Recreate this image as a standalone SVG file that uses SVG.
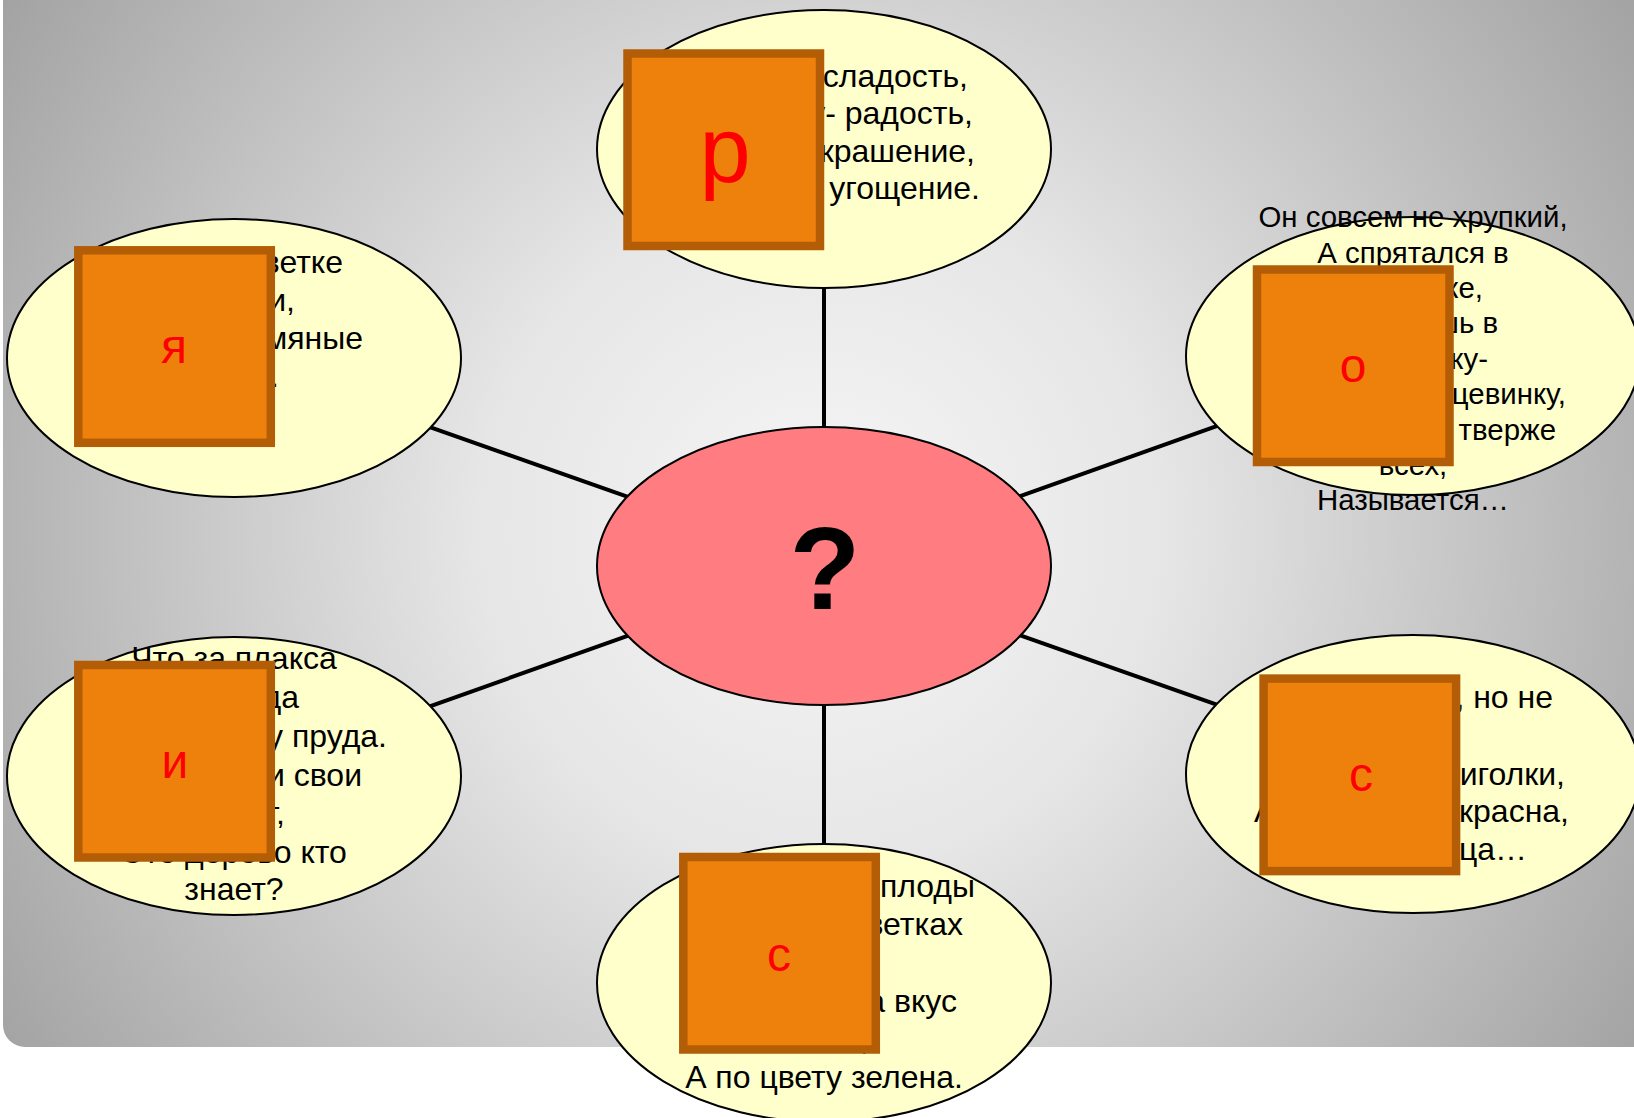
<svg xmlns="http://www.w3.org/2000/svg" width="1634" height="1118" viewBox="0 0 1634 1118">
<defs>
<radialGradient id="bg" gradientUnits="userSpaceOnUse" cx="820" cy="530" r="980">
<stop offset="0" stop-color="#f6f6f6"/>
<stop offset="0.35" stop-color="#e6e6e6"/>
<stop offset="1" stop-color="#a2a2a2"/>
</radialGradient>
<style>
.el{fill:#ffffcc;stroke:#000;stroke-width:2}
.ctr{fill:#ff7c80;stroke:#000;stroke-width:2}
.t{font-family:"Liberation Sans",Arial,sans-serif;font-size:32px;fill:#000}
.ts{font-size:29.4px}
.e{text-anchor:end}
.m{text-anchor:middle}
.card{fill:#ee800c;stroke:#b35e06;stroke-width:8.5}
.lt{font-family:"Liberation Sans",Arial,sans-serif;font-size:48px;fill:#ff0000;text-anchor:middle}
.conn{stroke:#000;stroke-width:4;fill:none}
</style>
</defs>
<rect x="3" y="-40" width="1680" height="1087" rx="22" fill="url(#bg)"/>
<g id="connectors">
<line class="conn" x1="824" y1="566" x2="824" y2="149"/>
<line class="conn" x1="824" y1="566" x2="824" y2="983"/>
<line class="conn" x1="824" y1="566" x2="234" y2="358"/>
<line class="conn" x1="824" y1="566" x2="234" y2="776"/>
<line class="conn" x1="824" y1="566" x2="1413" y2="356"/>
<line class="conn" x1="824" y1="566" x2="1413" y2="774"/>
</g>
<g id="center">
<ellipse class="ctr" cx="824" cy="566" rx="227" ry="139"/>
<text x="825" y="609" style="font-family:'Liberation Sans',Arial,sans-serif;font-size:116px;font-weight:bold;text-anchor:middle">?</text>
</g>
<g id="node-top">
<ellipse class="el" cx="824" cy="149" rx="227" ry="139"/>
<text class="t e" x="968" y="87">сладость,</text>
<text class="t e" x="973" y="124">у- радость,</text>
<text class="t e" x="975" y="162">крашение,</text>
<text class="t e" x="980" y="199">угощение.</text>
</g>
<g id="node-right-top">
<ellipse class="el" cx="1413" cy="356" rx="227" ry="139"/>
<text class="t ts m" x="1413" y="227">Он совсем не хрупкий,</text>
<text class="t ts m" x="1413" y="263">А спрятался в</text>
<text class="t ts e" x="1483" y="298">ке,</text>
<text class="t ts e" x="1498" y="333">шь в</text>
<text class="t ts e" x="1488" y="369">ку-</text>
<text class="t ts e" x="1566" y="404">цевинку,</text>
<text class="t ts e" x="1556" y="440">тверже</text>
<text class="t ts m" x="1413" y="475">всех,</text>
<text class="t ts m" x="1413" y="510">Называется…</text>
</g>
<g id="node-left-top">
<ellipse class="el" cx="234" cy="358" rx="227" ry="139"/>
<text class="t e" x="343" y="273">ветке</text>
<text class="t e" x="295" y="311">и,</text>
<text class="t e" x="363" y="349">умяные</text>
<text class="t e" x="279" y="387">.</text>
</g>
<g id="node-left-bottom">
<ellipse class="el" cx="234" cy="776" rx="227" ry="139"/>
<text class="t m" x="234" y="669">Что за плакса</text>
<text class="t e" x="299" y="708">да</text>
<text class="t e" x="387" y="747">у пруда.</text>
<text class="t e" x="362" y="786">и свои</text>
<text class="t e" x="285" y="824">т,</text>
<text class="t m" x="234" y="863">Это дерево кто</text>
<text class="t m" x="234" y="900">знает?</text>
</g>
<g id="node-right-bottom">
<ellipse class="el" cx="1413" cy="774" rx="227" ry="139"/>
<text class="t e" x="1553" y="708">, но не</text>
<text class="t e" x="1565" y="785">иголки,</text>
<text class="t" x="1254" y="822">А</text>
<text class="t e" x="1569" y="822">красна,</text>
<text class="t e" x="1527" y="860">ца…</text>
</g>
<g id="node-bottom">
<ellipse class="el" cx="824" cy="983" rx="227" ry="139"/>
<text class="t e" x="975" y="897">плоды</text>
<text class="t e" x="963" y="935">ветках</text>
<text class="t e" x="957" y="1012">а вкус</text>
<text class="t e" x="869" y="1050">,</text>
<text class="t m" x="824" y="1088">А по цвету зелена.</text>
</g>
<g id="card-r">
<rect class="card" x="627.5" y="53.5" width="192.5" height="192.5"/>
<text class="lt" x="725" y="182" style="font-size:92px">р</text>
</g>
<g id="card-o">
<rect class="card" x="1257" y="269.5" width="192.5" height="192.5"/>
<text class="lt" x="1353" y="382">о</text>
</g>
<g id="card-ya">
<rect class="card" x="78.3" y="250.3" width="192.5" height="192.5"/>
<text class="lt" x="174" y="363">я</text>
</g>
<g id="card-i">
<rect class="card" x="78.3" y="665" width="192.5" height="192.5"/>
<text class="lt" x="175" y="778">и</text>
</g>
<g id="card-s1">
<rect class="card" x="1263.6" y="678.6" width="192.5" height="192.5"/>
<text class="lt" x="1361" y="791">с</text>
</g>
<g id="card-s2">
<rect class="card" x="683.3" y="857" width="192.5" height="192.5"/>
<text class="lt" x="779" y="971">с</text>
</g>
</svg>
